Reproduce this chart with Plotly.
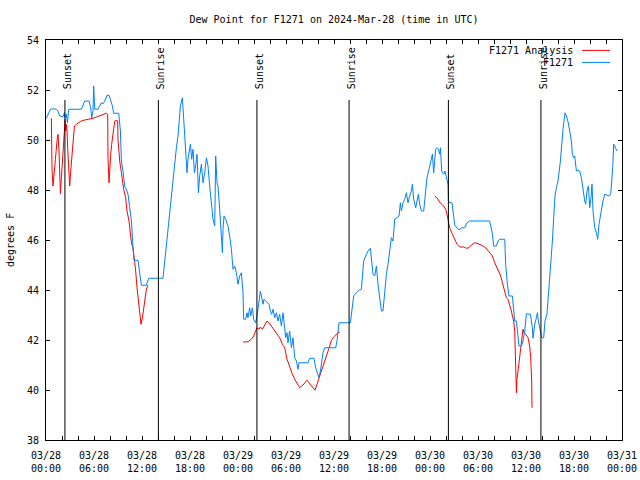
import plotly.graph_objects as go
import pandas as pd

START = pd.Timestamp("2024-03-28 00:00")
FONT = "DejaVu Sans Mono"

# Observed dew point (F1271), hours after 03/28 00:00 UTC
obs_hours = [0.05, 0.25, 0.55, 0.875, 1.3, 1.5, 1.71, 2.125, 2.3, 2.375, 2.55, 2.675, 2.84, 4.425, 4.625, 4.84,
             5.375, 5.59, 5.71, 5.875, 5.96, 6.09, 6.5, 6.71, 6.925, 7.125, 7.34, 7.625, 7.875, 8.05, 8.3, 8.46,
             9.09, 9.3, 9.425, 9.625, 9.84, 10.125, 10.25, 10.46, 10.675, 10.875, 11.0, 11.5, 11.71, 11.925,
             12.55, 12.84, 14.625, 14.84, 15.05, 15.25, 15.46, 15.675, 15.96, 16.3, 16.5, 16.8, 17.05, 17.21,
             17.46, 17.625, 17.75, 18.05, 18.21, 18.375, 18.55, 18.71, 18.875, 19.05, 19.21, 19.425, 19.625,
             19.84, 20.05, 20.25, 20.46, 20.675, 20.875, 21.09, 21.21, 21.375, 21.5, 21.71, 21.925, 22.05,
             22.125, 22.25, 22.46, 22.75, 22.96, 23.175, 23.375, 23.59, 23.8, 24.0, 24.21, 24.425, 24.625,
             24.71, 24.96, 25.125, 25.25, 25.46, 25.59, 25.8, 25.96, 26.21, 26.375, 26.625, 26.8, 26.925,
             27.125, 27.25, 27.46, 27.625, 27.875, 28.05, 28.21, 28.375, 28.59, 28.8, 29.0, 29.21, 29.425,
             29.625, 29.75, 29.96, 30.125, 30.25, 30.46, 30.675, 30.875, 31.09, 31.3, 31.5, 31.625, 32.75,
             32.96, 33.5, 33.71, 33.875, 34.125, 34.3, 34.46, 34.625, 34.84, 36.21, 36.375, 36.5, 36.625,
             38.05, 38.3, 38.46, 38.8, 39.125, 39.425, 39.55, 39.71, 39.96, 40.25, 40.55, 40.71, 40.875,
             41.09, 41.3, 41.5, 41.71, 41.925, 42.125, 42.34, 42.55, 42.75, 42.96, 43.175, 43.375, 43.59,
             43.875, 44.125, 44.3, 44.425, 44.625, 44.84, 45.05, 45.25, 45.46, 45.675, 45.8, 45.96, 46.21,
             46.375, 46.55, 46.71, 46.925, 47.21, 47.46, 47.625, 47.875, 48.05, 48.3, 48.46, 48.71, 48.875,
             49.05, 49.21, 49.3, 49.46, 49.71, 49.875, 50.05, 50.25, 50.3, 50.46, 50.75, 50.96, 51.09, 51.5,
             51.8, 51.925, 52.34, 52.625, 52.96, 55.46, 55.8, 55.96, 56.3, 56.5, 56.71, 57.34, 57.46, 57.675,
             57.875, 58.3, 58.46, 58.59, 58.8, 59.0, 59.125, 59.425, 59.625, 59.84, 60.05, 60.55, 60.8,
             60.875, 61.09, 61.3, 61.425, 61.55, 61.8, 61.96, 62.21, 62.375, 62.625, 62.75, 62.96, 63.175,
             63.3, 63.46, 63.625, 63.8, 64.0, 64.3, 64.46, 64.625, 64.8, 64.875, 65.05, 65.25, 65.46, 65.675,
             65.8, 65.96, 66.09, 66.3, 66.5, 66.71, 66.925, 67.125, 67.34, 67.46, 67.625, 67.8, 67.96,
             68.125, 68.25, 68.375, 68.59, 68.8, 68.96, 69.125, 69.3, 69.46, 69.625, 69.84, 70.05, 70.375,
             70.59, 70.71, 70.84, 70.96, 71.09, 71.21, 71.375]
obs_dewpt = [50.87, 51.03, 51.23, 51.25, 51.23, 51.16, 50.96, 50.93, 51.09, 50.89, 51.03, 50.69, 51.23, 51.23,
             51.40, 51.56, 51.56, 51.29, 50.89, 51.16, 52.16, 51.23, 51.23, 51.36, 51.49, 51.45, 51.56, 51.79,
             51.79, 51.63, 51.36, 51.07, 51.07, 50.36, 49.16, 48.76, 48.15, 47.96, 47.83, 47.30, 46.76, 45.70,
             45.19, 45.19, 44.63, 44.19, 44.19, 44.47, 44.47, 45.16, 45.86, 46.43, 47.09, 47.89, 48.69, 49.69,
             50.16, 51.36, 51.69, 50.96, 49.49, 48.69, 49.23, 49.83, 49.23, 49.63, 48.69, 48.96, 49.43, 47.89,
             48.56, 49.03, 48.29, 48.69, 49.29, 48.96, 48.16, 47.49, 46.83, 46.56, 49.36, 48.29, 48.16, 47.23,
             46.29, 45.49, 46.43, 46.96, 46.83, 46.56, 46.16, 45.63, 44.83, 44.96, 44.69, 44.23, 44.56, 44.69,
             43.89, 42.83, 42.83, 43.09, 42.89, 43.29, 42.96, 43.29, 42.83, 42.69, 42.96, 43.56, 43.96, 43.76,
             43.43, 43.63, 43.56, 43.49, 43.43, 43.16, 43.03, 43.23, 42.89, 43.09, 42.76, 43.03, 42.56, 43.09,
             42.76, 42.09, 42.29, 41.89, 42.36, 41.69, 42.09, 41.29, 41.16, 40.83, 41.09, 41.09, 41.27, 41.27,
             40.89, 40.76, 40.49, 40.76, 41.23, 41.49, 41.69, 41.69, 41.96, 42.43, 42.69, 42.69, 43.43, 43.76,
             43.89, 43.99, 44.03, 44.49, 45.16, 45.36, 45.56, 45.67, 45.16, 44.63, 44.56, 44.96, 44.23, 43.69,
             43.16, 43.16, 44.09, 44.63, 45.03, 45.69, 46.09, 45.96, 46.83, 46.89, 46.96, 47.49, 47.16, 47.49,
             47.63, 47.89, 47.49, 47.76, 47.96, 48.23, 47.63, 47.29, 47.63, 47.83, 47.43, 47.16, 47.16, 47.96,
             48.49, 48.83, 49.09, 49.43, 48.69, 49.63, 49.69, 49.63, 49.43, 49.69, 48.76, 48.63, 48.76, 48.56,
             48.23, 47.56, 47.49, 47.49, 47.03, 46.60, 46.43, 46.43, 46.49, 46.49, 46.69, 46.76, 46.76, 46.25,
             45.76, 45.76, 45.96, 46.03, 46.03, 45.03, 44.23, 43.76, 43.76, 43.09, 42.76, 42.76, 42.09, 41.76,
             41.76, 41.96, 42.36, 43.05, 43.03, 42.49, 42.07, 42.63, 42.89, 43.09, 42.76, 42.23, 42.09, 42.09,
             42.76, 43.05, 43.56, 44.63, 45.36, 45.96, 46.89, 47.76, 48.09, 48.36, 49.16, 49.89, 50.43, 50.89,
             51.09, 50.96, 50.73, 50.36, 49.96, 49.43, 49.29, 49.36, 48.76, 48.80, 48.76, 48.49, 47.96, 47.56,
             47.43, 47.96, 48.16, 47.29, 47.69, 48.23, 47.16, 46.49, 46.29, 46.03, 46.63, 47.03, 47.23, 47.56,
             47.83, 47.80, 47.76, 47.83, 48.23, 48.89, 49.83, 49.76, 49.69, 49.56]

# Analysis dew point (None = gap)
ana_hours = [0.675, 0.75, 0.875, 1.0, 1.175, 1.375, 1.5, 1.625, 1.71, 1.8, 1.925, 2.05, 2.21, 2.3, 2.375, 2.46,
             2.55, 2.625, 2.71, 2.84, 2.96, 3.09, 3.21, 3.375, 3.55, 3.8, 4.125, 4.425, 4.84, 5.375, 5.875, 6.3,
             6.71, 7.125, 7.55, 7.71, 7.75, 7.875, 7.96, 8.09, 8.21, 8.375, 8.59, 8.875, 8.96, 9.0, 9.21,
             9.425, 9.55, 9.71, 9.96, 10.125, 10.375, 10.55, 10.675, 10.875, 11.09, 11.21, 11.375, 11.55,
             11.71, 11.875, 12.05, 12.21, 12.375, 12.55, 12.75,
             None,
             24.625, 25.25, 25.675, 25.96, 26.21, 26.375, 26.625, 26.8, 27.05, 27.34, 27.625, 27.875, 28.175,
             28.46, 28.8, 29.21, 29.55, 29.84, 30.125, 30.46, 30.8, 31.09, 31.5, 31.71, 32.125, 32.625, 32.875,
             33.3, 33.625, 33.875, 34.125, 34.425, 34.71, 35.05, 35.375, 35.675, 35.96, 36.3, 36.5, 36.71,
             None,
             48.59, 48.875, 49.125, 49.425, 49.71, 49.96, 50.125, 50.25, 50.46, 50.8, 51.09, 51.375, 51.71,
             52.21, 52.55, 52.875, 53.175, 53.59, 53.875, 54.21, 54.625, 54.96, 55.25, 55.55, 55.8, 56.09,
             56.375, 56.625, 56.84, 57.05, 57.34, 57.55, 57.75, 57.96, 58.175, 58.3, 58.46, 58.59, 58.71, 58.8,
             58.875, 59.0, 59.21, 59.425, 59.625, 59.75, 59.96, 60.25, 60.46, 60.59, 60.71, 60.75]
ana_dewpt = [50.87, 48.83, 48.16, 48.76, 49.23, 49.96, 50.23, 49.56, 48.83, 47.85, 48.49, 49.03, 49.69, 50.36,
             50.83, 50.36, 50.63, 50.36, 49.69, 48.76, 48.16, 48.76, 49.29, 49.96, 50.56, 50.63, 50.69, 50.76,
             50.80, 50.83, 50.87, 50.92, 50.96, 51.03, 51.07, 51.03, 49.29, 48.29, 48.89, 49.43, 49.83, 50.36,
             50.76, 50.79, 50.76, 50.03, 49.16, 48.70, 48.36, 48.03, 47.69, 47.16, 46.76, 46.36, 45.89, 45.69,
             45.16, 44.76, 44.09, 43.56, 43.16, 42.63, 42.89, 43.29, 43.69, 44.03, 44.20,
             None,
             41.92, 41.93, 42.03, 42.16, 42.36, 42.49, 42.43, 42.52, 42.43, 42.63, 42.76, 42.69, 42.56, 42.43,
             42.29, 42.09, 41.83, 41.69, 41.23, 40.89, 40.63, 40.43, 40.16, 40.09, 40.20, 40.39, 40.29, 40.12,
             39.99, 40.23, 40.49, 40.76, 41.05, 41.36, 41.67, 41.99, 42.12, 42.25, 42.29, 42.32,
             None,
             47.76, 47.69, 47.56, 47.43, 47.36, 47.23, 47.03, 46.76, 46.49, 46.23, 46.03, 45.83, 45.72, 45.72,
             45.67, 45.69, 45.80, 45.89, 45.87, 45.83, 45.76, 45.69, 45.59, 45.45, 45.36, 45.09, 44.87, 44.69,
             44.56, 44.29, 43.96, 43.69, 43.63, 43.43, 43.16, 42.96, 42.76, 42.36, 41.16, 39.89, 40.43, 40.76,
             41.56, 42.03, 42.43, 42.29, 42.23, 42.09, 41.76, 41.29, 40.36, 39.29]

event_times = ["2024-03-28 02:22", "2024-03-28 14:03", "2024-03-29 02:22",
               "2024-03-29 13:53", "2024-03-30 02:18", "2024-03-30 13:52"]
event_labels = ["Sunset", "Sunrise", "Sunset", "Sunrise", "Sunset", "Sunrise"]

tick_times = pd.date_range("2024-03-28 00:00", "2024-03-31 00:00", freq="6h")
tick_labels = [t.strftime("%m/%d") + "<br>" + t.strftime("%H:%M") for t in tick_times]
y_ticks = [38, 40, 42, 44, 46, 48, 50, 52, 54]

series_names = ["F1271 Analysis", "F1271"]
series_colors = ["#ff0000", "#0080ff"]


def to_time(hours):
    return [START + pd.Timedelta(hours=h) if h is not None else None for h in hours]


fig = go.Figure()
fig.add_trace(go.Scatter(x=to_time(ana_hours), y=ana_dewpt, mode="lines", name=series_names[0],
                         line=dict(color=series_colors[0], width=1), connectgaps=False))
fig.add_trace(go.Scatter(x=to_time(obs_hours), y=obs_dewpt, mode="lines", name=series_names[1],
                         line=dict(color=series_colors[1], width=1)))

for t, lab in zip(event_times, event_labels):
    fig.add_shape(type="line", xref="x", yref="paper", x0=t, x1=t, y0=0, y1=0.85,
                  line=dict(color="black", width=1))
    fig.add_annotation(x=t, y=0.872, xref="x", yref="paper", text=lab, textangle=-90,
                       showarrow=False, xanchor="center", yanchor="bottom", xshift=2,
                       font=dict(family=FONT, size=10, color="black"))

# key (top right, gnuplot style)
key_y = [0.974, 0.944]
for name, col, yy in zip(series_names, series_colors, key_y):
    fig.add_annotation(x=0.9184, y=yy, xref="paper", yref="paper", text=name, showarrow=False,
                       xanchor="right", yanchor="middle", font=dict(family=FONT, size=10, color="black"))
    fig.add_shape(type="line", xref="paper", yref="paper", x0=0.9306, x1=0.9792, y0=yy, y1=yy,
                  line=dict(color=col, width=1))

fig.add_annotation(x=-0.0625, y=0.5, xref="paper", yref="paper", text="degrees F", textangle=-90,
                   showarrow=False, xanchor="center", yanchor="middle",
                   font=dict(family=FONT, size=10, color="black"))

fig.update_layout(
    width=640, height=480,
    margin=dict(l=46, r=18, t=40, b=40, autoexpand=False),
    paper_bgcolor="white", plot_bgcolor="white",
    showlegend=False,
    font=dict(family=FONT, size=10, color="black"),
    title=dict(text="Dew Point for F1271 on 2024-Mar-28 (time in UTC)", x=0.5, xref="paper",
               y=1 - 19 / 480, yref="container", yanchor="middle", xanchor="center",
               font=dict(family=FONT, size=10, color="black")),
)
fig.update_xaxes(type="date", range=[tick_times[0], tick_times[-1]], tickmode="array",
                 tickvals=list(tick_times), ticktext=tick_labels, ticks="inside", ticklen=4,
                 tickcolor="black", showline=True, linecolor="black", linewidth=1, mirror="ticks",
                 showgrid=False, zeroline=False, ticklabelstandoff=6, automargin=False,
                 minor=dict(dtick=2 * 3600 * 1000, tick0="2024-03-28", ticks="inside", ticklen=4,
                            tickcolor="black", showgrid=False))
fig.update_yaxes(range=[38, 54], tickmode="array", tickvals=y_ticks, ticks="inside", ticklen=4,
                 tickcolor="black", showline=True, linecolor="black", linewidth=1, mirror="ticks",
                 showgrid=False, zeroline=False, ticklabelstandoff=4, automargin=False)

fig.write_html("out.html", config={"displayModeBar": False},
               post_script="document.body.style.margin='0px';")
